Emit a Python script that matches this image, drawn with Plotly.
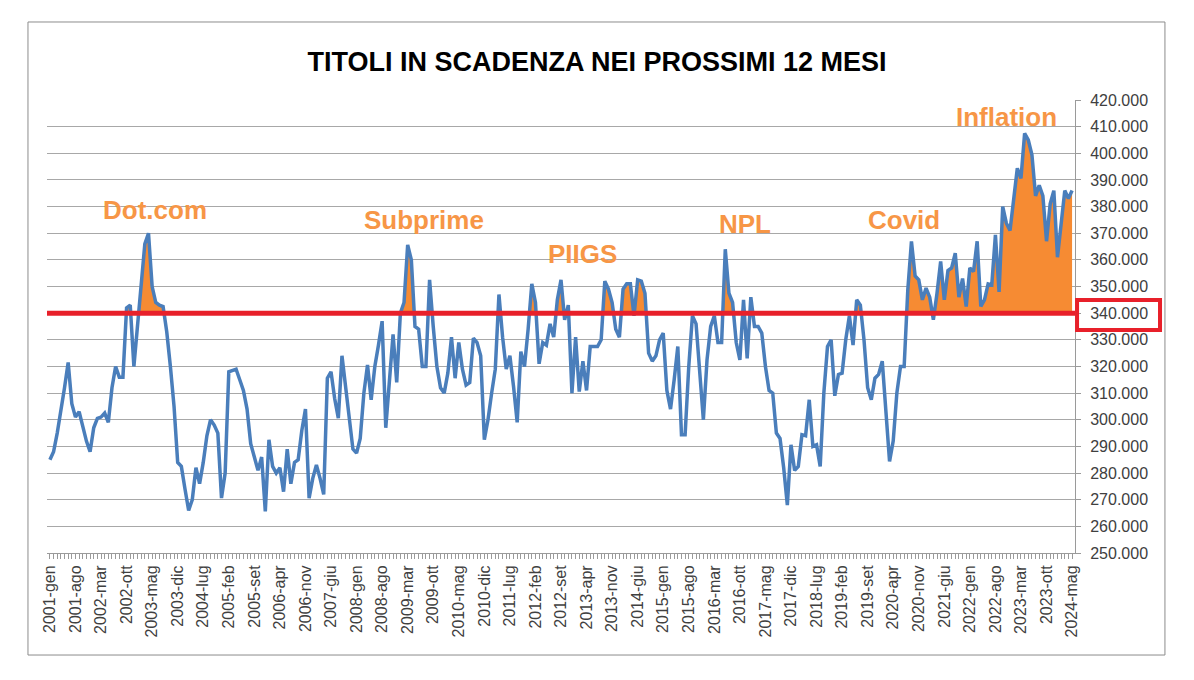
import plotly.graph_objects as go

# ---------------- data (thousands) ----------------
month_names = ["gen", "feb", "mar", "apr", "mag", "giu", "lug", "ago", "set", "ott", "nov", "dic"]
months = [f"{y}-{m}" for y in range(2001, 2025) for m in month_names][:281]

values = [
    285, 288, 295, 303, 312, 321.5, 306, 301, 303, 297.5, 292, 288,
    297, 300.5, 301, 302.5, 299, 312, 320, 316, 316, 342, 343, 320,
    335, 352, 366, 370, 350, 344, 343, 342.5, 333, 320, 305, 284,
    282.5, 274, 266, 270, 282, 276, 284, 294, 300, 298, 295, 270.6,
    280, 318, 318.5, 319, 315, 311, 304, 291, 286, 281, 286, 265.6,
    292.5, 282.5, 280, 282, 273, 289, 276, 284, 285, 296, 304, 270.6,
    278, 283, 278, 272, 315.6, 318, 308, 300.6, 324, 312, 300, 289,
    287.5, 293, 310, 320.6, 307.5, 320, 328, 337, 297, 315, 332, 314,
    340, 344, 365.6, 360, 335, 334, 320, 320, 352.5, 335, 320, 312,
    310, 317.5, 331, 315.6, 329, 319, 313, 314, 330.6, 329, 324, 292.5,
    300, 310, 319, 347, 331, 319, 324, 312.5, 299, 325.6, 320, 334,
    351, 344, 321, 329, 328, 336, 331, 345, 352.5, 337.5, 343, 310,
    331, 310.6, 322, 311, 327.5, 327.5, 327.5, 330, 352, 349, 344, 334,
    331, 349, 351, 351, 339, 352.5, 352, 347.5, 325, 322, 324, 330,
    332.5, 311, 304, 315, 327.5, 294.4, 294.4, 320, 339, 336, 318, 300,
    322.5, 335, 339, 329, 329, 364, 347.5, 344, 329, 322.5, 345, 323,
    346, 335, 335, 332.5, 320, 311, 310, 295, 293, 282, 268, 290.6,
    281, 282.5, 294.4, 294, 307.5, 290, 290.6, 282.5, 310, 327.5, 330, 309,
    317, 317.5, 330, 339, 328, 345, 343, 330, 312, 307.5, 315.6, 317,
    322, 301, 284.4, 292, 310, 320, 320, 348.75, 366.9, 354, 352.5, 345,
    349.4, 346, 337.5, 347.5, 359.4, 345, 356, 357, 362.5, 346, 353, 342.5,
    357, 355.6, 367, 342.5, 345, 351, 350.6, 369.4, 348, 380, 373.75, 371,
    383.75, 394.4, 390.6, 407.5, 405, 399.4, 384, 388, 384, 367, 381, 386,
    361, 374, 386, 383, 386,
]

threshold = 340
y_ticks = list(range(250, 421, 10))
y_ticktext = [f"{v}.000" for v in y_ticks]

annotations_txt = ["Dot.com", "Subprime", "PIIGS", "NPL", "Covid", "Inflation"]
annotations_x = [28.8, 102.5, 146, 190.4, 234, 262]
annotations_y = [378.7, 375, 362.2, 373.5, 375, 413.6]

# ---------------- figure ----------------
idx = list(range(len(values)))

# orange area above the threshold (with crossing points inserted)
fx, fy = [], []
for i, v in enumerate(values):
    if i > 0:
        p = values[i - 1]
        if (p - threshold) * (v - threshold) < 0:
            t = (threshold - p) / (v - p)
            fx.append(i - 1 + t)
            fy.append(threshold)
    fx.append(i)
    fy.append(max(v, threshold))
poly_x = fx + [fx[-1], fx[0]]
poly_y = fy + [threshold, threshold]

fig = go.Figure()
fig.add_trace(go.Scatter(
    x=poly_x, y=poly_y, fill="toself", mode="none",
    fillcolor="#F68B33", hoverinfo="skip", showlegend=False,
))
fig.add_trace(go.Scatter(
    x=idx, y=values, mode="lines",
    line=dict(color="#4A7EBB", width=3.5),
    text=months, showlegend=False,
))
fig.add_trace(go.Scatter(
    x=[-0.8, 280.8], y=[threshold, threshold], mode="lines",
    line=dict(color="#E8202A", width=5), hoverinfo="skip", showlegend=False,
))

for t, x, y in zip(annotations_txt, annotations_x, annotations_y):
    fig.add_annotation(
        x=x, y=y, text=t, showarrow=False,
        font=dict(family="Liberation Sans", size=26, color="#F79646", weight="bold"),
        xanchor="center", yanchor="middle",
    )

tick_idx = list(range(0, len(months), 7))
fig.update_xaxes(
    range=[-0.8, 280.8],
    tickmode="array", tickvals=tick_idx, ticktext=[months[i] for i in tick_idx],
    tickangle=-90, ticks="outside", ticklen=5, tickcolor="#9a9a9a",
    minor=dict(dtick=1, tick0=0, ticks="outside", ticklen=5, tickcolor="#9a9a9a", showgrid=False),
    showline=True, linecolor="#9a9a9a", linewidth=1,
    showgrid=False, zeroline=False,
    tickfont=dict(family="Liberation Sans", size=16, color="#404040"),
)
fig.update_yaxes(
    range=[250, 420], side="right",
    tickmode="array", tickvals=y_ticks, ticktext=y_ticktext,
    ticks="outside", ticklen=5, tickcolor="#9a9a9a",
    ticklabelstandoff=6,
    showline=True, linecolor="#9a9a9a", linewidth=1,
    showgrid=True, gridcolor="#a8a8a8", gridwidth=1, zeroline=False,
    tickfont=dict(family="Liberation Sans", size=16, color="#404040"),
)

# red box around the 340.000 label
fig.add_shape(type="rect", xref="paper", yref="paper",
              x0=1.002, x1=1.0827, y0=0.4923, y1=0.5585,
              line=dict(color="#E8202A", width=4))
# outer chart frame
fig.add_shape(type="rect", xref="paper", yref="paper",
              x0=-0.0185, x1=1.0875, y0=-0.2252, y1=1.1722,
              line=dict(color="#8c8c8c", width=1))

fig.update_layout(
    width=1194, height=680,
    margin=dict(l=47, r=119, t=100, b=127),
    paper_bgcolor="white", plot_bgcolor="white",
    title=dict(text="<b>TITOLI IN SCADENZA NEI PROSSIMI 12 MESI</b>",
               x=0.5, xanchor="center", y=1 - 62 / 680, yanchor="middle",
               font=dict(family="Liberation Sans", size=27, color="#000000")),
    showlegend=False,
)

fig.write_html("out.html")
